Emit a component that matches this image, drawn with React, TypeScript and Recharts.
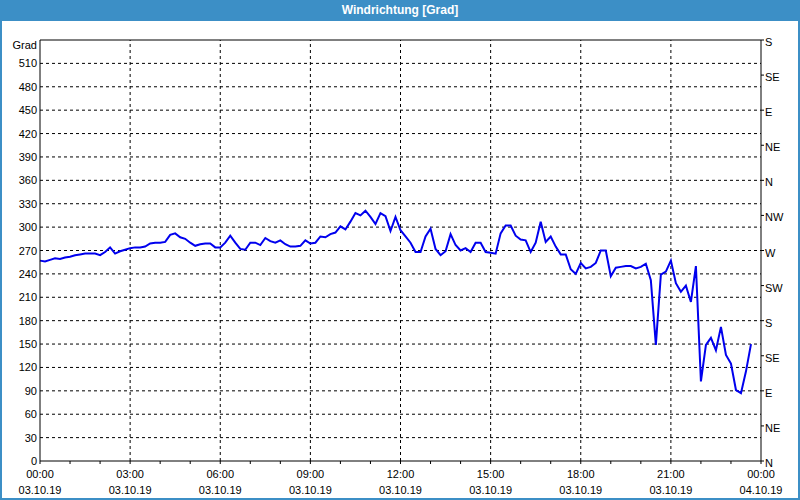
import React from 'react';
import { LineChart, Line, XAxis, YAxis, ReferenceLine } from 'recharts';

// wind direction, one reading every 10 minutes from 00:00 on 03.10.19
const STEP_MIN = 10;
const windDeg = [
  257, 256, 258, 260, 259, 261, 262, 264, 265, 266, 266, 266, 264, 268, 274, 266, 269, 271, 273, 274,
  274, 275, 279, 280, 280, 281, 290, 292, 287, 285, 280, 276, 278, 279, 279, 274, 274, 280, 289, 280,
  272, 271, 280, 280, 277, 286, 282, 280, 283, 278, 275, 275, 276, 283, 279, 280, 288, 287, 291, 293,
  301, 297, 307, 318, 315, 321, 313, 304, 318, 314, 295, 313, 296, 288, 280, 268, 268, 288, 298, 272,
  264, 269, 291, 277, 270, 273, 268, 280, 280, 268, 267, 266, 292, 302, 302, 289, 284, 283, 268, 280,
  307, 281, 288, 275, 265, 265, 246, 240, 254, 247, 249, 254, 270, 270, 237, 248, 249, 250, 250, 247,
  249, 253, 232, 149, 239, 243, 257, 228, 217, 225, 204, 250, 102, 149, 158, 142, 172, 136, 125, 91,
  87, 115, 150,
];

const hourTicks = [0, 60, 120, 180, 240, 300, 360, 420, 480, 540, 600, 660, 720, 780, 840, 900, 960, 1020, 1080, 1140, 1200, 1260, 1320, 1380, 1440];
const majorTicks = [0, 180, 360, 540, 720, 900, 1080, 1260, 1440];
const timeLabels = ['00:00', '03:00', '06:00', '09:00', '12:00', '15:00', '18:00', '21:00', '00:00'];
const dateLabels = ['03.10.19', '03.10.19', '03.10.19', '03.10.19', '03.10.19', '03.10.19', '03.10.19', '03.10.19', '04.10.19'];

const gradTicks = [0, 30, 60, 90, 120, 150, 180, 210, 240, 270, 300, 330, 360, 390, 420, 450, 480, 510, 540];
const dirTicks = [0, 45, 90, 135, 180, 225, 270, 315, 360, 405, 450, 495, 540];
const dirLabels = ['N', 'NE', 'E', 'SE', 'S', 'SW', 'W', 'NW', 'N', 'NE', 'E', 'SE', 'S'];

const chartData = windDeg.map((v, i) => ({ t: i * STEP_MIN, v }));

const FONT = '"Liberation Sans", Arial, sans-serif';
const BLUE = '#3c8fc6';

const TimeTick = (props: any) => {
  const { x, y, payload } = props;
  const idx = majorTicks.indexOf(payload.value);
  if (idx < 0) return null;
  return (
    <g>
      <text x={x} y={y + 12} textAnchor="middle" fontSize={11} fontFamily={FONT} fill="#000">
        {timeLabels[idx]}
      </text>
      <text x={x} y={y + 28} textAnchor="middle" fontSize={11} fontFamily={FONT} fill="#000">
        {dateLabels[idx]}
      </text>
    </g>
  );
};

const GradTick = (props: any) => {
  const { y, payload } = props;
  const isTop = payload.value === 540;
  return (
    <text x={37} y={y + (isTop ? 9 : 4)} textAnchor="end" fontSize={11} fontFamily={FONT} fill="#000">
      {isTop ? 'Grad' : payload.value}
    </text>
  );
};

const DirTick = (props: any) => {
  const { x, y, payload } = props;
  const idx = dirTicks.indexOf(Number(payload.value));
  return (
    <text x={x} y={y + 6} textAnchor="start" fontSize={11} fontFamily={FONT} fill="#000">
      {idx >= 0 ? dirLabels[idx] : ''}
    </text>
  );
};

export default function App() {
  return (
    <div
      style={{
        position: 'absolute',
        left: 0,
        top: 0,
        width: 800,
        height: 500,
        background: '#fff',
        boxSizing: 'border-box',
        border: `2px solid ${BLUE}`,
        borderTop: 'none',
        overflow: 'hidden',
      }}
    >
      <div
        style={{
          position: 'absolute',
          left: -2,
          top: 0,
          width: 800,
          height: 21,
          background: BLUE,
          color: '#fff',
          fontFamily: FONT,
          fontWeight: 'bold',
          fontSize: 12,
          lineHeight: '21px',
          textAlign: 'center',
        }}
      >
        Windrichtung [Grad]
      </div>
      <div style={{ position: 'absolute', left: -2, top: 0 }}>
        <LineChart width={800} height={500} data={chartData} margin={{ top: 40, right: 0, bottom: 0, left: 0 }}>
          <XAxis
            dataKey="t"
            type="number"
            domain={[0, 1440]}
            ticks={hourTicks}
            interval={0}
            height={39}
            tickSize={3}
            tickMargin={2}
            stroke="#000"
            tickLine={{ stroke: '#000' }}
            axisLine={{ stroke: '#000' }}
            tick={<TimeTick />}
          />
          <YAxis
            yAxisId="l"
            orientation="left"
            domain={[0, 540]}
            ticks={gradTicks}
            interval={0}
            width={40}
            tickLine={false}
            axisLine={{ stroke: '#000' }}
            tick={<GradTick />}
          />
          <YAxis
            yAxisId="r"
            orientation="right"
            type="number"
            domain={[0, 540]}
            ticks={dirTicks}
            interval={0}
            width={39}
            tickSize={3}
            tickMargin={1}
            stroke="#000"
            tickLine={{ stroke: '#000' }}
            axisLine={{ stroke: '#000' }}
            tick={<DirTick />}
          />
          {gradTicks.slice(1, -1).map((g) => (
            <ReferenceLine key={'h' + g} yAxisId="l" y={g} stroke="#000" strokeDasharray="3 3" />
          ))}
          {majorTicks.slice(1, -1).map((m) => (
            <ReferenceLine key={'v' + m} yAxisId="l" x={m} stroke="#000" strokeDasharray="3 3" />
          ))}
          <ReferenceLine yAxisId="l" y={540} stroke="#000" />
          {/* carries the compass axis so it gets a scale; draws nothing */}
          <Line
            yAxisId="r"
            type="linear"
            dataKey="v"
            stroke="none"
            dot={false}
            activeDot={false}
            isAnimationActive={false}
          />
          <Line
            yAxisId="l"
            type="linear"
            dataKey="v"
            stroke="#0000ee"
            strokeWidth={2}
            dot={false}
            isAnimationActive={false}
          />
        </LineChart>
      </div>
    </div>
  );
}
